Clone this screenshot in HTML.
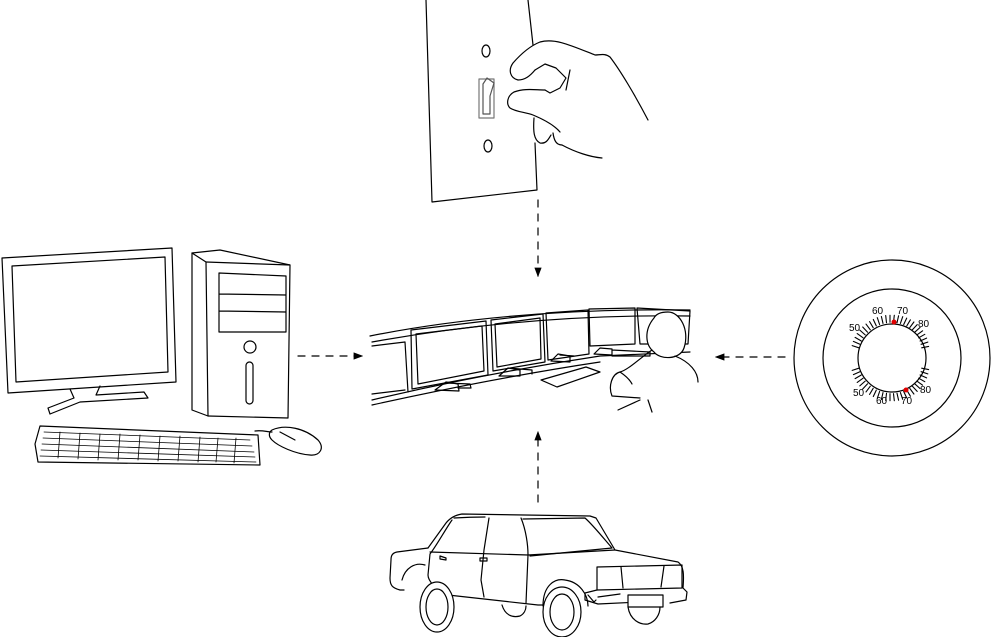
<!DOCTYPE html>
<html><head><meta charset="utf-8"><style>html,body{margin:0;padding:0;background:#fff}svg{display:block}</style></head><body>
<svg width="992" height="637" viewBox="0 0 992 637" xmlns="http://www.w3.org/2000/svg" fill="none" stroke="#000" stroke-width="1.2" stroke-linejoin="round" stroke-linecap="round">
<defs><marker id="ah" markerWidth="8" markerHeight="8" refX="7" refY="4" orient="auto"><path d="M0,1 L8,4 L0,7 z" fill="#000" stroke="none"/></marker></defs>
<g stroke-dasharray="7,7" stroke-width="1.2">
<line x1="538" y1="200" x2="538" y2="276" marker-end="url(#ah)"/>
<line x1="538" y1="502" x2="538" y2="432" marker-end="url(#ah)"/>
<line x1="298" y1="356" x2="362" y2="356" marker-end="url(#ah)"/>
<line x1="785" y1="357" x2="716" y2="357" marker-end="url(#ah)"/>
</g>
<!-- switch plate -->
<polyline points="533,45 528,0"/>
<polyline points="426,0 432,202 537,190 535,143"/>
<ellipse cx="486" cy="51" rx="4" ry="6"/>
<ellipse cx="488" cy="146" rx="4" ry="6"/>
<rect x="479" y="79" width="15" height="39" stroke="#777"/>
<path d="M483,84 L487,78 L494,83 L490,96 L490,114 L483,114 Z" stroke="#555"/>
<!-- hand -->
<path d="M648,120 C635,95 620,70 610,57 C605,53 600,55 595,55 C570,45 555,38 540,42 C530,46 520,55 513,63 C508,70 510,78 518,80 C525,80 530,76 535,70"/>
<path d="M535,70 L545,64 L556,68 L566,78 L560,88 L550,93 L545,90"/>
<path d="M570,70 L566,90"/>
<path d="M545,90 C535,90 525,88 514,92 C507,96 506,104 510,108 C516,112 525,112 533,115 C545,120 555,126 560,132"/>
<path d="M534,118 C533,132 534,140 540,143 C546,144 548,140 551,135"/>
<path d="M553,133 C554,140 556,145 562,145"/>
<path d="M562,145 C575,152 590,157 602,158"/>
<!-- computer monitor -->
<polygon points="2,258 172,248 176,382 8,393"/>
<polygon points="12,266 165,257 168,372 16,382"/>
<path d="M70,389 L74,398 L48,408 L50,414 L80,402 L148,398 L144,392 L96,395 L100,386"/>
<!-- tower -->
<polygon points="192,253 220,250 290,265 288,418 208,416 192,410"/>
<path d="M192,253 L206,262 L208,416"/>
<path d="M206,262 L290,265"/>
<path d="M219,273 L286,276 M219,294 L286,295 M219,311 L286,312 M219,332 L286,332 M219,273 L219,332 M286,276 L286,332"/>
<circle cx="250" cy="347" r="6"/>
<rect x="246" y="362" width="7" height="42" rx="3.5"/>
<!-- keyboard -->
<polygon points="40,426 258,435 260,465 38,462 35,444"/>
<g stroke-width="0.8">
<path d="M44,432 L250,440 M43,438 L252,446 M42,444 L254,452 M41,450 L255,457 M40,456 L256,462"/>
<path d="M60,432 L58,458 M80,433 L78,459 M100,434 L98,460 M120,434 L118,460 M140,435 L138,460 M160,436 L158,461 M180,436 L178,461 M200,437 L198,462 M218,438 L216,462 M236,438 L234,463"/>
</g>
<path d="M255,431 C262,430 268,432 272,432"/>
<path d="M272,430 C285,424 305,428 318,440 C325,448 320,456 310,455 C295,454 278,446 272,440 C268,436 269,432 272,430 Z"/>
<path d="M280,432 L295,440"/>
<!-- control room -->
<path d="M370,336 C450,320 560,308 690,310"/>
<path d="M372,342 C450,328 560,314 690,316"/>
<path d="M372,400 C440,384 520,368 600,356 L690,352"/>
<path d="M372,405 C440,390 520,374 600,362"/>
<polygon points="411,330 486,321 488,375 412,389"/>
<polygon points="416,334 482,326 484,371 418,384"/>
<polygon points="491,320 543,314 545,362 493,371"/>
<polygon points="495,324 540,318 541,359 497,367"/>
<polygon points="546,313 588,310 589,354 548,360"/>
<polygon points="589,309 635,308 635,344 590,346"/>
<polygon points="637,308 690,311 688,344 640,344"/>
<path d="M372,346 L405,342 L408,392 M372,394 L405,390"/>
<path d="M435,390 L446,382 L458,384 L459,391 Z M446,383 L470,384 L471,388 L458,388"/>
<path d="M499,376 L508,368 L520,370 L520,376 Z M508,368 L532,370 L532,374"/>
<path d="M551,361 L558,354 L570,356 L570,362 Z M560,355 L574,356"/>
<path d="M594,354 L600,348 L612,349 L612,355 Z M612,350 L650,352 L650,356 L612,356"/>
<polygon points="541,380 586,367 600,372 557,387"/>
<path d="M654,318 C644,330 645,345 654,352 C660,360 680,360 684,348 C690,330 680,312 668,312 C660,312 656,314 654,318 Z" fill="#fff"/>
<path d="M652,350 C640,358 628,370 620,372 C612,374 608,386 612,396 L640,398"/>
<path d="M675,356 C690,362 698,372 698,382"/>
<path d="M620,372 C626,376 630,380 632,384"/>
<path d="M618,410 L640,400 M648,400 L652,412"/>
<!-- thermostat -->
<circle cx="892" cy="358" r="98"/>
<circle cx="892" cy="358" r="69"/>
<circle cx="892" cy="358" r="34"/>
<g stroke-width="1.1">
<path d="M858.9,347.8L852.2,345.6M859.9,344.3L853.4,341.4M861.3,341.0L855.1,337.4M863.1,337.8L857.2,333.6M865.2,334.9L859.8,330.1M867.6,332.2L862.7,327.0M870.3,329.8L866.0,324.1M873.2,327.7L869.6,321.6M876.3,325.9L873.3,319.5M879.6,324.5L877.3,317.7M883.0,323.4L881.4,316.5M886.5,322.7L885.7,315.6M890.0,322.3L890.0,315.3M893.5,322.3L894.3,315.3M897.0,322.7L898.6,315.8M900.4,323.4L902.7,316.7M903.7,324.5L906.7,318.1M906.8,325.9L910.4,319.8M909.7,327.7L913.9,322.0M912.4,329.8L917.2,324.6M914.8,332.2L920.1,327.4M916.9,334.9L922.6,330.8M918.7,337.8L924.8,334.3M920.1,341.0L926.6,338.1M921.1,344.3L927.8,342.1M921.7,347.8L928.6,346.4"/>
<path d="M858.9,368.2L852.2,370.4M859.9,371.7L853.4,374.6M861.3,375.0L855.1,378.6M863.1,378.2L857.2,382.4M865.2,381.1L859.8,385.9M867.6,383.8L862.7,389.0M870.3,386.2L866.0,391.9M873.2,388.3L869.6,394.4M876.3,390.1L873.3,396.5M879.6,391.5L877.3,398.3M883.0,392.6L881.4,399.5M886.5,393.3L885.7,400.4M890.0,393.7L890.0,400.7M893.5,393.7L894.3,400.7M897.0,393.3L898.6,400.2M900.4,392.6L902.7,399.3M903.7,391.5L906.7,397.9M906.8,390.1L910.4,396.2M909.7,388.3L913.9,394.0M912.4,386.2L917.2,391.4M914.8,383.8L920.1,388.6M916.9,381.1L922.6,385.2M918.7,378.2L924.8,381.7M920.1,375.0L926.6,377.9M921.1,371.7L927.8,373.9M921.7,368.2L928.6,369.6"/>
</g>
<circle cx="894" cy="322" r="2.5" fill="#e00000" stroke="none"/>
<circle cx="906" cy="390" r="2.5" fill="#e00000" stroke="none"/>
<g font-family="Liberation Sans, sans-serif" font-size="10" fill="#000" stroke="none">
<text x="872" y="314">60</text><text x="897" y="314">70</text><text x="918" y="327">80</text><text x="849" y="331">50</text>
<text x="853" y="396">50</text><text x="876" y="404">60</text><text x="901" y="404">70</text><text x="920" y="393">80</text>
</g>
<!-- car -->
<path d="M428,548 L446,523 C450,518 455,515 462,514 L590,516 L596,518 L615,550 L678,562 C684,566 684,575 683,588 L687,592 L686,600 L670,603"/>
<path d="M428,548 L397,552 C392,553 391,556 391,560 L390,578 C390,585 392,588 400,590 L404,590"/>
<path d="M454,518 C470,517 480,517 485,517 M452,520 C445,530 437,545 430,554 L428,575 C428,580 435,590 448,595 L538,605 L575,605 M598,597 L620,594"/>
<path d="M489,518 L484,550 L481,580 L484,597"/>
<path d="M521,518 C526,530 528,545 528,555 L526,603"/>
<path d="M523,519 L585,518 C593,525 605,540 612,548 L530,556"/>
<path d="M430,552 L528,555 L615,550"/>
<path d="M597,567 L682,565 L682,588 L597,590 Z"/>
<path d="M621,567 L623,588 M664,566 L661,587"/>
<path d="M597,590 L585,593 L585,600 L598,604 L640,602"/>
<path d="M588,595 L594,602 L596,600"/>
<rect x="628" y="595" width="35" height="12" fill="#fff"/>
<path d="M402,580 C405,568 415,562 425,565"/>
<ellipse cx="437" cy="607" rx="17" ry="25" fill="#fff"/>
<ellipse cx="437" cy="607" rx="11" ry="18"/>
<path d="M543,606 C543,585 555,578 565,580 C580,582 588,595 588,606"/>
<ellipse cx="562" cy="612" rx="19" ry="25" fill="#fff"/>
<ellipse cx="562" cy="612" rx="12" ry="18"/>
<path d="M628,607 C630,620 640,625 648,624 C655,622 660,615 660,607"/>
<path d="M502,605 C505,615 512,618 520,616 C524,614 526,610 526,606"/>
<path d="M440,556 L446,558 L446,560 L440,559 Z M480,558 L487,558 L487,561 L480,561 Z"/>
</svg>
</body></html>
